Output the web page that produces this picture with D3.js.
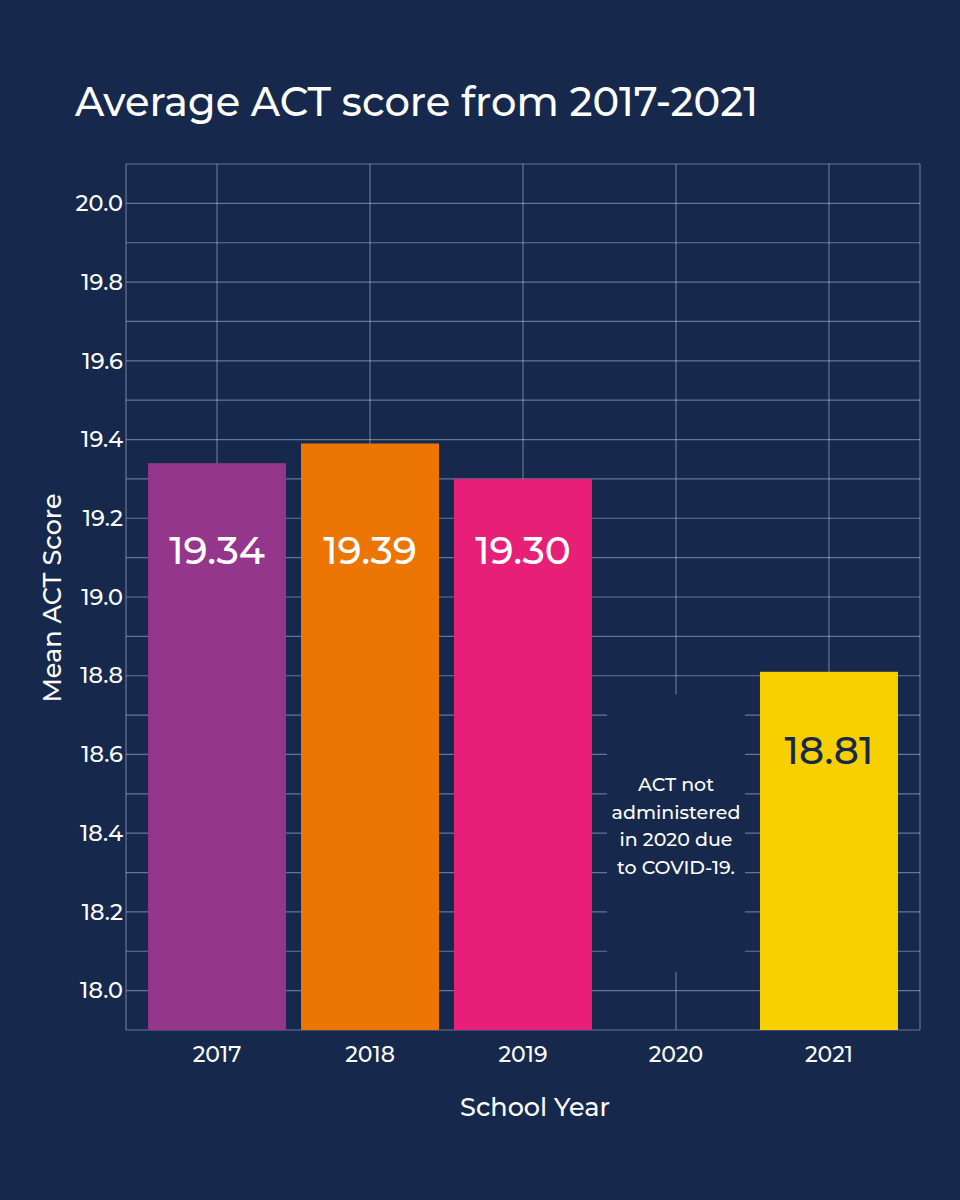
<!DOCTYPE html>
<html><head><meta charset="utf-8">
<script src="https://cdn.jsdelivr.net/npm/d3@7"></script>
<style>html,body{margin:0;padding:0;background:#16294d;}</style>
</head><body>
<script>
const years = ["2017","2018","2019","2020","2021"];
const scores = [19.34, 19.39, 19.30, null, 18.81];
const labels = ["19.34","19.39","19.30","","18.81"];
const barColors = ["#93368c","#ec7503","#e81f76","none","#f8d000"];
const labelColors = ["#ffffff","#ffffff","#ffffff","#ffffff","#16294d"];
const yTicks = [18.0,18.2,18.4,18.6,18.8,19.0,19.2,19.4,19.6,19.8,20.0];
const gridValues = d3.range(0,23).map(i => +(17.9 + i*0.1).toFixed(1));
const noteLines = ["ACT not","administered","in 2020 due","to COVID-19."];

const W=960,H=1200, bg="#16294d";
const font = "Montserrat, 'Open Sans', Lato, sans-serif";
const svg = d3.select("body").append("svg").attr("width",W).attr("height",H);
svg.append("rect").attr("width",W).attr("height",H).attr("fill",bg);

const L=126,R=920,T=164,B=1030;
const x = d3.scaleBand().domain(years).range([L,R]).paddingInner(0.098).paddingOuter(0.144);
const y = d3.scaleLinear().domain([17.9,20.1]).range([B,T]);
const gridColor = "rgba(200,210,235,0.45)";

// grid
const g = svg.append("g");
g.selectAll(".h").data(gridValues).join("line")
  .attr("x1",L).attr("x2",R).attr("y1",d=>y(d)).attr("y2",d=>y(d))
  .attr("stroke",gridColor).attr("stroke-width",1.2);
g.selectAll(".v").data(years).join("line")
  .attr("x1",d=>x(d)+x.bandwidth()/2).attr("x2",d=>x(d)+x.bandwidth()/2)
  .attr("y1",T).attr("y2",B).attr("stroke",gridColor).attr("stroke-width",1.2);
g.append("line").attr("x1",L).attr("x2",L).attr("y1",T).attr("y2",B).attr("stroke",gridColor).attr("stroke-width",1.2);
g.append("line").attr("x1",R).attr("x2",R).attr("y1",T).attr("y2",B).attr("stroke",gridColor).attr("stroke-width",1.2);

// bars
const data = years.map((yr,i)=>({yr, v:scores[i], c:barColors[i], lab:labels[i], lc:labelColors[i]}));
const shown = data.filter(d=>d.v!=null);
const tallTop = y(d3.min(shown.filter(d=>d.v>19).map(d=>d.v)));
svg.selectAll(".bar").data(shown).join("rect")
  .attr("x",d=>x(d.yr)).attr("width",x.bandwidth())
  .attr("y",d=>y(d.v)).attr("height",d=>B-y(d.v)).attr("fill",d=>d.c);
svg.selectAll(".blab").data(shown).join("text")
  .attr("x",d=>x(d.yr)+x.bandwidth()/2).attr("y",d=>Math.max(y(d.v),tallTop)+ (d.v>19?85:92))
  .attr("text-anchor","middle").attr("fill",d=>d.lc)
  .attr("font-family",font).attr("font-size",39).attr("font-weight",500)
  .text(d=>d.lab);

// 2020 note
const cx = x("2020")+x.bandwidth()/2;
svg.append("rect").attr("x",x("2020")).attr("width",x.bandwidth())
  .attr("y",y(18.752)).attr("height",y(18.048)-y(18.752)).attr("fill",bg);
svg.append("g").selectAll("text").data(noteLines).join("text")
  .attr("x",cx).attr("y",(d,i)=>791+i*27.5).attr("text-anchor","middle")
  .attr("fill","#fff").attr("font-family",font).attr("font-size",19).attr("font-weight",500)
  .text(d=>d);

// axes
const ya = svg.append("g").attr("transform",`translate(${L-3},0)`)
  .call(d3.axisLeft(y).tickValues(yTicks).tickFormat(d3.format(".1f")).tickSize(0).tickPadding(0));
ya.select(".domain").remove();
ya.selectAll("text").attr("fill","#fff").attr("font-family",font).attr("font-size",22.5).attr("font-weight",500);

const xa = svg.append("g").attr("transform",`translate(0,${B})`)
  .call(d3.axisBottom(x).tickSize(0).tickPadding(16));
xa.select(".domain").remove();
xa.selectAll("text").attr("fill","#fff").attr("font-family",font).attr("font-size",22).attr("font-weight",500);

// titles
svg.append("text").attr("x",75).attr("y",116).attr("fill","#fff")
  .attr("font-family",font).attr("font-size",40).attr("font-weight",500)
  .text("Average ACT score from 2017-2021");
svg.append("text").attr("x",535).attr("y",1116).attr("text-anchor","middle").attr("fill","#fff")
  .attr("font-family",font).attr("font-size",25.5).attr("font-weight",500).text("School Year");
svg.append("text").attr("transform","translate(61,598) rotate(-90)").attr("text-anchor","middle").attr("fill","#fff")
  .attr("font-family",font).attr("font-size",25.5).attr("font-weight",500).text("Mean ACT Score");
</script>
</body></html>
